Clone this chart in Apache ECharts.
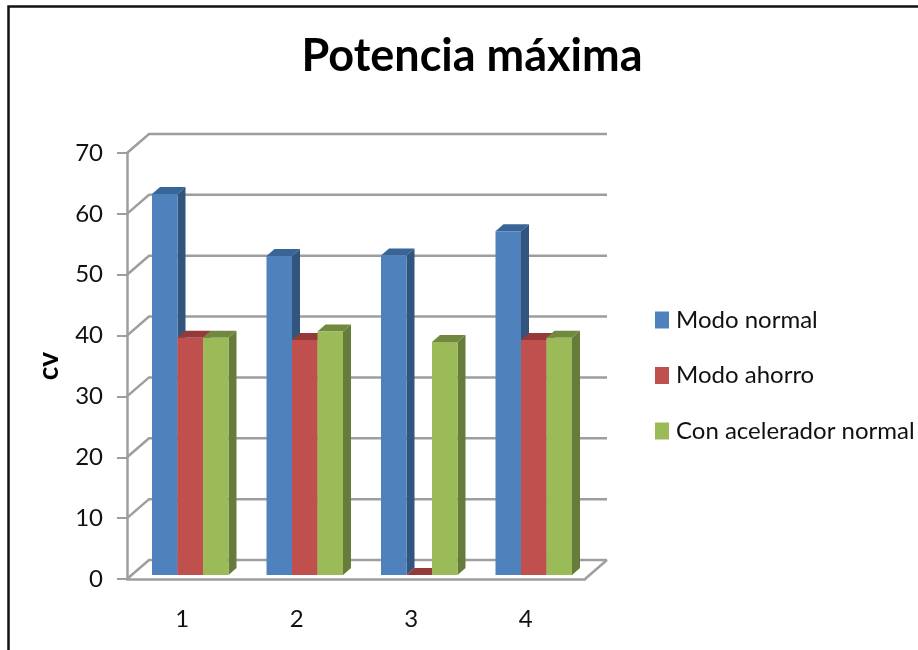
<!DOCTYPE html>
<html>
<head>
<meta charset="utf-8">
<style>html,body{margin:0;padding:0;background:#fff}#c{width:918px;height:650px}</style>
<script src="https://cdn.jsdelivr.net/npm/echarts@6/dist/echarts.min.js"></script>
</head>
<body>
<div id="c"></div>
<script>
const categories = ['1', '2', '3', '4'];
const modoNormal = [62.6, 52.4, 52.5, 56.5];
const modoAhorro = [39, 38.6, 0, 38.6];
const conAcelerador = [39, 40, 38.3, 39];
const valueTicks = [0, 10, 20, 30, 40, 50, 60, 70];

const seriesNames = ['Modo normal', 'Modo ahorro', 'Con acelerador normal'];
const seriesValues = [modoNormal, modoAhorro, conAcelerador];
const palette = [
  { front: '#4f81bd', top: '#386597', side: '#31557f' },
  { front: '#c0504d', top: '#953a38', side: '#8a3a37' },
  { front: '#9bbb59', top: '#71883f', side: '#667c3a' }
];
const lineColor = '#9e9e9e';

// Pseudo-3D geometry, in pixels
const wallDepth = [22, -19];
const barInset = [6, -4];
const barDepth = [8, -7];
const barShare = 0.2227;

function poly(points, fill) {
  return { type: 'polygon', shape: { points }, style: { fill } };
}

function renderBar(seriesIndex) {
  return function (params, api) {
    const band = api.size([1, 0])[0];
    const w = band * barShare;
    const top = api.coord([api.value(0), api.value(1)]);
    const base = api.coord([api.value(0), 0]);
    const x0 = top[0] + barInset[0] - 1.5 * w + seriesIndex * w;
    const x1 = x0 + w;
    const yTop = top[1] + barInset[1];
    const yBase = base[1] + barInset[1];
    const [dx, dy] = barDepth;
    const c = palette[seriesIndex];
    return {
      type: 'group',
      children: [
        poly([[x1, yBase], [x1 + dx, yBase + dy], [x1 + dx, yTop + dy], [x1, yTop]], c.side),
        poly([[x0, yTop], [x0 + dx, yTop + dy], [x1 + dx, yTop + dy], [x1, yTop]], c.top),
        { type: 'rect', shape: { x: x0, y: yTop, width: w, height: yBase - yTop }, style: { fill: c.front } }
      ]
    };
  };
}

// Back wall gridlines, with their slanted run back from the value axis
function renderWall(params, api) {
  const v = api.value(0);
  const y = api.coord([0, v])[1];
  const left = params.coordSys.x;
  const right = left + params.coordSys.width;
  const [dx, dy] = wallDepth;
  const style = { stroke: lineColor, lineWidth: 2.5, fill: null };
  const children = [{
    type: 'polyline',
    shape: { points: [[left, y], [left + dx, y + dy], [right + dx, y + dy]] },
    style
  }];
  if (v === 0) {
    children.push({
      type: 'line',
      shape: { x1: right, y1: y, x2: right + dx, y2: y + dy },
      style
    });
  }
  return { type: 'group', children };
}

const chart = echarts.init(document.getElementById('c'), null, { renderer: 'canvas' });
chart.setOption({
  animation: false,
  backgroundColor: '#fff',
  textStyle: { fontFamily: 'Lato' },
  title: {
    text: 'Potencia máxima',
    left: 467,
    textAlign: 'center',
    top: 29,
    textStyle: { fontFamily: 'Lato', fontSize: 45, fontWeight: 'bold', color: '#000' }
  },
  legend: {
    data: seriesNames,
    orient: 'vertical',
    left: 655,
    top: 308,
    padding: 0,
    icon: 'rect',
    itemWidth: 14,
    itemHeight: 17,
    itemGap: 31.5,
    selectedMode: false,
    textStyle: { fontFamily: 'Lato', fontSize: 24, color: '#111', padding: [0, 0, 0, 2] }
  },
  grid: { left: 127, top: 153, width: 458, height: 426, containLabel: false },
  xAxis: {
    type: 'category',
    data: categories,
    axisLine: { lineStyle: { color: lineColor, width: 2.5 } },
    axisTick: { show: false },
    axisLabel: { margin: 28, fontFamily: 'Lato', fontSize: 24, color: '#111', padding: [0, 4, 0, 0] }
  },
  yAxis: {
    type: 'value',
    min: 0,
    max: 70,
    interval: 10,
    name: 'cv',
    nameLocation: 'middle',
    nameRotate: 90,
    nameGap: 64,
    nameTextStyle: { fontFamily: 'Lato', fontSize: 28, fontWeight: 'bold', color: '#000' },
    axisLine: { show: true, lineStyle: { color: lineColor, width: 2.5 } },
    axisTick: { show: true, length: 10, lineStyle: { color: lineColor, width: 2 } },
    axisLabel: { margin: 24, fontFamily: 'Lato', fontSize: 24, color: '#111' },
    splitLine: { show: false }
  },
  graphic: [
    {
      type: 'polyline',
      silent: true,
      shape: { points: [[8.5, 650], [8.5, 6.5], [918, 6.5]] },
      style: { stroke: '#111', lineWidth: 2.5, fill: null }
    }
  ],
  series: [
    {
      type: 'custom',
      name: 'wall',
      z: 1,
      silent: true,
      renderItem: renderWall,
      encode: { y: 0 },
      data: valueTicks.map(v => [v])
    },
    ...seriesNames.map((name, i) => ({
      type: 'custom',
      name,
      z: 2 + i,
      itemStyle: { color: palette[i].front },
      renderItem: renderBar(i),
      encode: { x: 0, y: 1 },
      data: categories.map((c, k) => [k, seriesValues[i][k]])
    }))
  ]
});
</script>
</body>
</html>
